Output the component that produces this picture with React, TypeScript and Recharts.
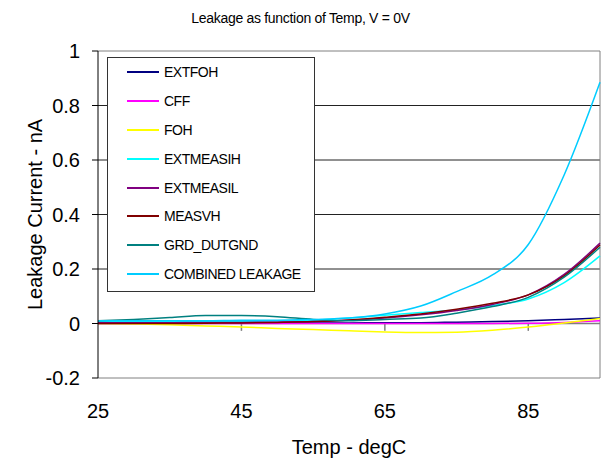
import { Label, Legend, Line, LineChart, ReferenceLine, XAxis, YAxis } from "recharts";

const temps = [25, 30, 35, 40, 45, 50, 55, 60, 65, 70, 75, 80, 85, 90, 95];

const extfoh = [0.002, 0.002, 0.002, 0.002, 0.002, 0.002, 0.002, 0.002, 0.003, 0.003, 0.005, 0.007, 0.01, 0.015, 0.02];
const cff = [0, 0, 0, 0, 0, 0, 0, 0, 0, 0, 0, 0, 0.001, 0.004, 0.01];
const foh = [0, -0.002, -0.005, -0.009, -0.013, -0.018, -0.022, -0.027, -0.031, -0.033, -0.032, -0.025, -0.013, 0.002, 0.018];
const extmeasih = [0.008, 0.008, 0.008, 0.008, 0.008, 0.009, 0.012, 0.02, 0.03, 0.04, 0.05, 0.066, 0.09, 0.15, 0.248];
const extmeasil = [0.003, 0.003, 0.003, 0.004, 0.004, 0.005, 0.007, 0.012, 0.02, 0.032, 0.048, 0.07, 0.105, 0.18, 0.295];
const measvh = [0, 0, 0, 0.001, 0.002, 0.004, 0.007, 0.013, 0.023, 0.035, 0.052, 0.074, 0.105, 0.175, 0.288];
const grdDutgnd = [0.01, 0.015, 0.022, 0.029, 0.029, 0.025, 0.015, 0.01, 0.015, 0.02, 0.038, 0.062, 0.096, 0.17, 0.28];
const combined = [0.01, 0.01, 0.01, 0.01, 0.012, 0.012, 0.015, 0.02, 0.035, 0.064, 0.117, 0.178, 0.29, 0.545, 0.885];

const yTicks = [-0.2, 0, 0.2, 0.4, 0.6, 0.8, 1];
const xTicks = [25, 45, 65, 85];
const gridValues = [0.2, 0.4, 0.6, 0.8];

const SERIES = [
  { key: "EXTFOH", values: extfoh, color: "#000080" },
  { key: "CFF", values: cff, color: "#ff00ff" },
  { key: "FOH", values: foh, color: "#ffff00" },
  { key: "EXTMEASIH", values: extmeasih, color: "#00ffff" },
  { key: "EXTMEASIL", values: extmeasil, color: "#800080" },
  { key: "MEASVH", values: measvh, color: "#800000" },
  { key: "GRD_DUTGND", values: grdDutgnd, color: "#008080" },
  { key: "COMBINED LEAKAGE", values: combined, color: "#00ccff" },
];

const rows = temps.map((t, i) => {
  const r: Record<string, number> = { temp: t };
  for (const s of SERIES) r[s.key] = s.values[i];
  return r;
});

const FONT = "'Liberation Sans', Arial, sans-serif";

function LegendBox() {
  return (
    <div style={{ border: "1px solid #333", background: "#fff", width: 206, height: 233, paddingTop: 0 }}>
      {SERIES.map((s) => (
        <div key={s.key} style={{ display: "flex", alignItems: "center", height: 28.8 }}>
          <div style={{ width: 32, height: 2, background: s.color, marginLeft: 19, marginRight: 5 }} />
          <span style={{ fontSize: 14, letterSpacing: -0.5, color: "#000", fontFamily: FONT, whiteSpace: "nowrap" }}>{s.key}</span>
        </div>
      ))}
    </div>
  );
}

export default function App() {
  const tickStyle = { fontSize: 20, fill: "#000", fontFamily: FONT };
  return (
    <div style={{ position: "absolute", left: 0, top: 0, width: 610, height: 464, background: "#fff", fontFamily: FONT }}>
      <div style={{ position: "absolute", left: 0, top: 9, width: 601, textAlign: "center", fontSize: 14, lineHeight: "18px", letterSpacing: -0.3 }}>
        Leakage as function of Temp, V = 0V
      </div>
      <LineChart width={610} height={464} data={rows} margin={{ top: 51, right: 10, bottom: 0, left: 0 }}>
        <XAxis
          dataKey="temp" type="number" domain={[25, 95]} ticks={xTicks}
          axisLine={{ stroke: "#808080" }} tickLine={false} tickSize={0} tickMargin={26}
          tick={tickStyle} height={86}
        >
          <Label value="Temp - degC" position="insideBottom" offset={10} style={{ fontSize: 20, fill: "#000", fontFamily: FONT }} />
        </XAxis>
        <YAxis
          domain={[-0.2, 1]} ticks={yTicks} width={98} interval={0}
          axisLine={{ stroke: "#000" }} tickLine={{ stroke: "#000" }} tickSize={6} tickMargin={12}
          tick={tickStyle}
        >
          <Label
            content={({ viewBox }: any) => {
              const cx = viewBox.x + 35;
              const cy = viewBox.y + viewBox.height / 2;
              return (
                <text x={cx} y={cy} transform={`rotate(-90, ${cx}, ${cy})`} textAnchor="middle" dominantBaseline="central" fontSize={20} fontFamily={FONT} fill="#000">
                  Leakage Current - nA
                </text>
              );
            }}
          />
        </YAxis>
        {gridValues.map((v) => (
          <ReferenceLine key={v} y={v} stroke="#222" strokeWidth={1} />
        ))}
        <ReferenceLine y={1} stroke="#808080" />
        <ReferenceLine y={0} stroke="#808080" strokeWidth={1.5} />
        <ReferenceLine x={95} stroke="#808080" />
        {xTicks.slice(1).map((t) => (
          <ReferenceLine key={t} segment={[{ x: t, y: 0 }, { x: t, y: -0.027 }]} stroke="#808080" strokeWidth={1.5} />
        ))}
        {SERIES.map((s) => (
          <Line key={s.key} type="monotone" dataKey={s.key} stroke={s.color} strokeWidth={1.5} dot={false} isAnimationActive={false} />
        ))}
        <Legend
          layout="vertical" align="center" verticalAlign="middle"
          content={() => <LegendBox />}
          wrapperStyle={{ left: 107, top: 57, width: 208, height: 235 }}
        />
      </LineChart>
    </div>
  );
}
